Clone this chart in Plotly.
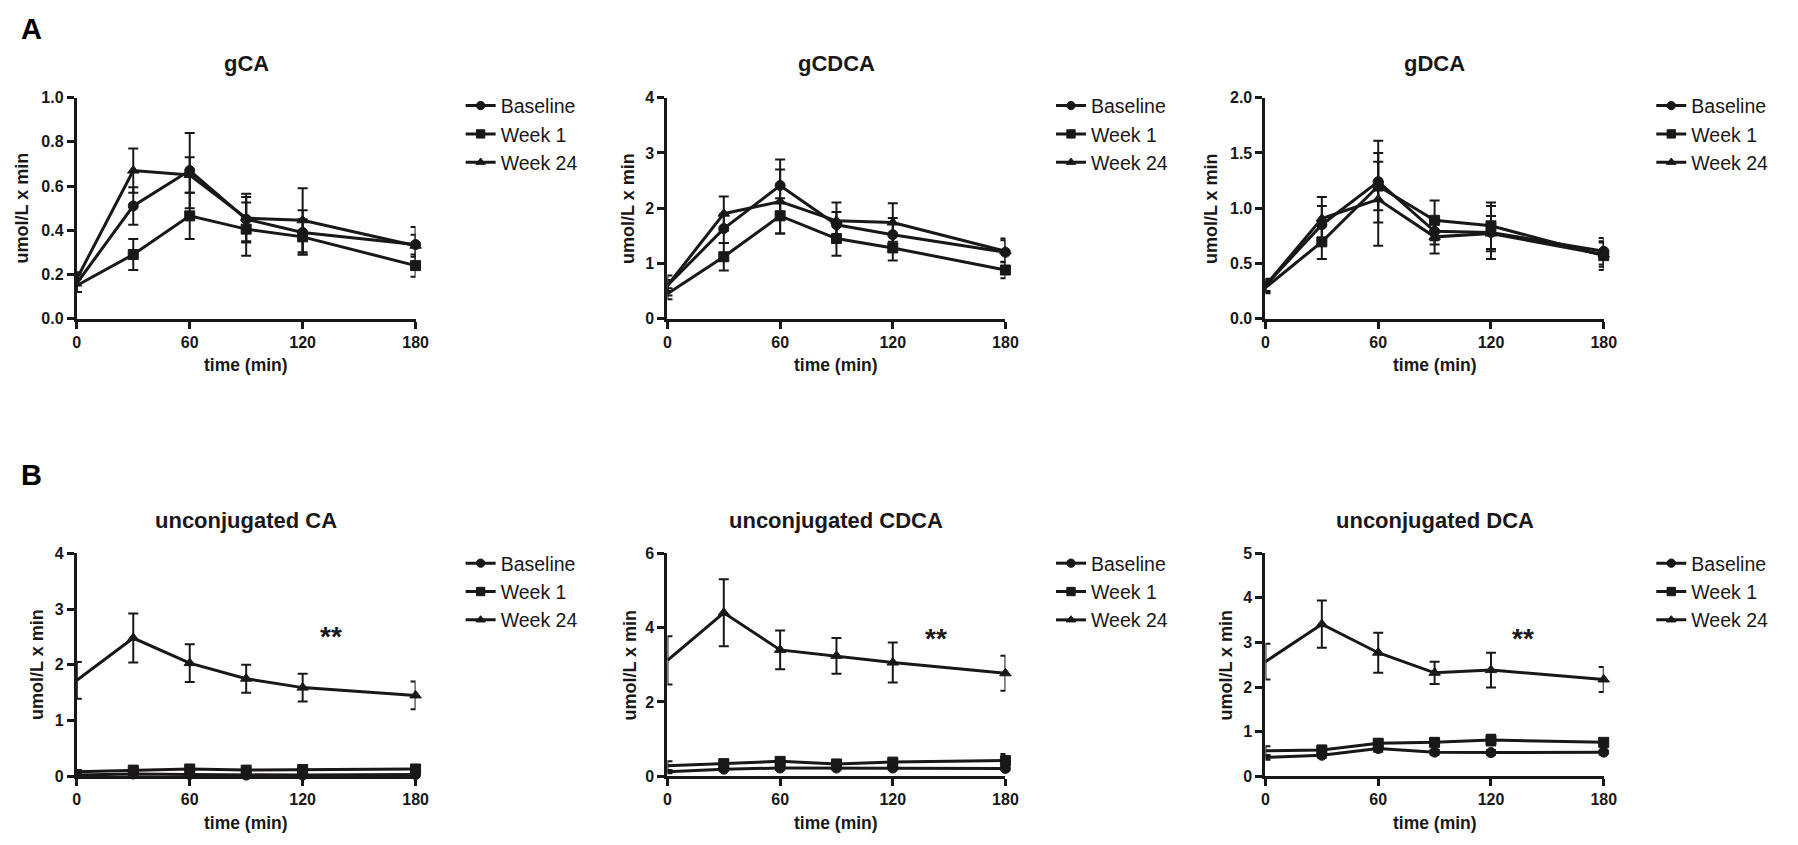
import plotly.graph_objects as go

# ---------------- data ----------------
time = [0, 30, 60, 90, 120, 180]
series_names = ["Baseline", "Week 1", "Week 24"]

panel_titles = ["gCA", "gCDCA", "gDCA", "unconjugated CA", "unconjugated CDCA", "unconjugated DCA"]

# gCA
gca_base = [0.16, 0.51, 0.67, 0.45, 0.39, 0.335]
gca_base_err = [0.04, 0.085, 0.17, 0.10, 0.10, 0.08]
gca_w1 = [0.15, 0.29, 0.465, 0.405, 0.37, 0.24]
gca_w1_err = [0.03, 0.07, 0.105, 0.12, 0.08, 0.05]
gca_w24 = [0.18, 0.67, 0.65, 0.455, 0.445, 0.33]
gca_w24_err = [0.03, 0.10, 0.08, 0.11, 0.145, 0.05]

# gCDCA
gcdca_base = [0.60, 1.63, 2.41, 1.70, 1.52, 1.20]
gcdca_base_err = [0.18, 0.26, 0.47, 0.23, 0.30, 0.25]
gcdca_w1 = [0.45, 1.12, 1.86, 1.45, 1.28, 0.88]
gcdca_w1_err = [0.10, 0.25, 0.32, 0.31, 0.23, 0.15]
gcdca_w24 = [0.60, 1.90, 2.12, 1.77, 1.74, 1.22]
gcdca_w24_err = [0.10, 0.31, 0.58, 0.33, 0.35, 0.20]

# gDCA
gdca_base = [0.30, 0.85, 1.24, 0.79, 0.78, 0.61]
gdca_base_err = [0.06, 0.17, 0.37, 0.12, 0.24, 0.12]
gdca_w1 = [0.28, 0.695, 1.20, 0.89, 0.84, 0.57]
gdca_w1_err = [0.05, 0.155, 0.22, 0.18, 0.21, 0.13]
gdca_w24 = [0.30, 0.905, 1.08, 0.74, 0.77, 0.58]
gdca_w24_err = [0.05, 0.195, 0.42, 0.15, 0.16, 0.11]

# unconjugated CA
uca_base = [0.02, 0.04, 0.03, 0.02, 0.02, 0.03]
uca_base_err = [0.01, 0.02, 0.02, 0.01, 0.01, 0.02]
uca_w1 = [0.08, 0.11, 0.13, 0.11, 0.12, 0.13]
uca_w1_err = [0.03, 0.03, 0.04, 0.03, 0.03, 0.05]
uca_w24 = [1.72, 2.48, 2.03, 1.75, 1.59, 1.45]
uca_w24_err = [0.33, 0.44, 0.34, 0.25, 0.25, 0.25]

# unconjugated CDCA
ucdca_base = [0.12, 0.19, 0.22, 0.22, 0.22, 0.21]
ucdca_base_err = [0.04, 0.04, 0.05, 0.04, 0.04, 0.05]
ucdca_w1 = [0.28, 0.34, 0.40, 0.33, 0.38, 0.42]
ucdca_w1_err = [0.12, 0.08, 0.08, 0.06, 0.07, 0.18]
ucdca_w24 = [3.12, 4.40, 3.40, 3.24, 3.06, 2.77]
ucdca_w24_err = [0.65, 0.90, 0.52, 0.48, 0.54, 0.47]

# unconjugated DCA
udca_base = [0.42, 0.47, 0.62, 0.54, 0.53, 0.54]
udca_base_err = [0.05, 0.05, 0.07, 0.05, 0.05, 0.05]
udca_w1 = [0.57, 0.59, 0.74, 0.76, 0.81, 0.76]
udca_w1_err = [0.10, 0.06, 0.08, 0.08, 0.12, 0.08]
udca_w24 = [2.57, 3.41, 2.77, 2.32, 2.38, 2.17]
udca_w24_err = [0.40, 0.53, 0.45, 0.25, 0.39, 0.28]

y_max = [1.0, 4, 2.0, 4, 6, 5]
y_dtick = [0.2, 1, 0.5, 1, 2, 1]
y_fmt = [".1f", "d", ".1f", "d", "d", "d"]
x_ticks = [0, 60, 120, 180]

# significance marks (bottom row)
star_text = "**"
star_x = [135, 143, 137]
star_y = [2.61, 3.87, 3.23]

panels = [
    [(gca_base, gca_base_err), (gca_w1, gca_w1_err), (gca_w24, gca_w24_err)],
    [(gcdca_base, gcdca_base_err), (gcdca_w1, gcdca_w1_err), (gcdca_w24, gcdca_w24_err)],
    [(gdca_base, gdca_base_err), (gdca_w1, gdca_w1_err), (gdca_w24, gdca_w24_err)],
    [(uca_base, uca_base_err), (uca_w1, uca_w1_err), (uca_w24, uca_w24_err)],
    [(ucdca_base, ucdca_base_err), (ucdca_w1, ucdca_w1_err), (ucdca_w24, ucdca_w24_err)],
    [(udca_base, udca_base_err), (udca_w1, udca_w1_err), (udca_w24, udca_w24_err)],
]

# ---------------- layout geometry (pixels) ----------------
W, H = 1798, 845
INK = "#1a1718"
FONT = "Liberation Sans, Arial, Helvetica, sans-serif"

col_x = [(73.5, 415.5), (669.8, 1011.0), (1273.5, 1615.0)]
row_y = [(91.5, 317.0), (556.5, 784.0)]
legend_text_x = [505, 1101, 1707]
legend_top = [80, 547]
title_y = [57, 523]
ytitle_off = [55, 40, 55, 40, 38, 40]

symbols = ["circle", "square", "triangle-up"]
msizes = [10, 10, 10]

def px(x):
    return x / W

def py(y):
    return 1 - y / H

fig = go.Figure()
annotations = []

for i, series in enumerate(panels):
    r, c = divmod(i, 3)
    n = i + 1
    xa = "x" if n == 1 else f"x{n}"
    ya = "y" if n == 1 else f"y{n}"
    leg = "legend" if n == 1 else f"legend{n}"
    for k, (vals, errs) in enumerate(series):
        sizes = [0] + [msizes[k]] * (len(time) - 1)
        fig.add_trace(go.Scatter(
            x=time, y=vals, name=series_names[k], mode="lines+markers",
            xaxis=xa, yaxis=ya, legend=leg, cliponaxis=False, hoverinfo="skip",
            line=dict(color=INK, width=3),
            marker=dict(symbol=symbols[k], size=sizes, color=INK, opacity=1,
                        line=dict(width=1, color=INK)),
            error_y=dict(type="data", array=errs, visible=True, color=INK, thickness=2, width=5),
        ))
    x0, x1 = col_x[c]
    y0, y1 = row_y[r]
    axis_common = dict(showline=True, linewidth=3, linecolor=INK, ticks="outside", ticklen=7,
                       tickwidth=2.5, tickcolor=INK, showgrid=False, zeroline=False,
                       tickfont=dict(family=FONT, size=16, color=INK, weight="bold"))
    fig.layout[("xaxis" if n == 1 else f"xaxis{n}")] = dict(
        domain=[px(x0), px(x1)], anchor=ya, range=[0, 180], tickvals=x_ticks, **axis_common)
    fig.layout[("yaxis" if n == 1 else f"yaxis{n}")] = dict(
        domain=[py(y1), py(y0)], anchor=xa, range=[0, y_max[i]], dtick=y_dtick[i], tick0=0,
        tickformat=y_fmt[i], **axis_common)
    fig.layout[leg] = dict(
        x=px(legend_text_x[c] - 44), y=py(legend_top[r]), xanchor="left", yanchor="top",
        bgcolor="rgba(0,0,0,0)", font=dict(family=FONT, size=19.5, color=INK),
        itemwidth=30, tracegroupgap=0)
    # panel title
    annotations.append(dict(text=panel_titles[i], x=px((x0 + x1) / 2), y=py(title_y[r]),
                            xref="paper", yref="paper", showarrow=False, xanchor="center", yanchor="middle",
                            font=dict(family=FONT, size=22, color=INK, weight="bold")))
    # x-axis title
    annotations.append(dict(text="time (min)", x=px((x0 + x1) / 2), y=py(y1 + 47.5),
                            xref="paper", yref="paper", showarrow=False, xanchor="center", yanchor="middle",
                            font=dict(family=FONT, size=17.5, color=INK, weight="bold")))
    # y-axis title
    annotations.append(dict(text="umol/L x min", x=px(x0 - ytitle_off[i]), y=py((y0 + y1) / 2),
                            xref="paper", yref="paper", showarrow=False, xanchor="center", yanchor="middle",
                            textangle=-90,
                            font=dict(family=FONT, size=18, color=INK, weight="bold")))
    if r == 1:
        annotations.append(dict(text=star_text, x=star_x[c], y=star_y[c], xref=xa, yref=ya,
                                showarrow=False, xanchor="center", yanchor="middle", yshift=-6,
                                font=dict(family=FONT, size=28, color=INK, weight="bold")))

annotations.append(dict(text="A", x=px(15), y=py(21), xref="paper", yref="paper", showarrow=False,
                        xanchor="left", yanchor="middle",
                        font=dict(family=FONT, size=29, color="#000000", weight="bold")))
annotations.append(dict(text="B", x=px(15), y=py(477), xref="paper", yref="paper", showarrow=False,
                        xanchor="left", yanchor="middle",
                        font=dict(family=FONT, size=29, color="#000000", weight="bold")))

fig.update_layout(width=W, height=H, margin=dict(l=0, r=0, t=0, b=0),
                  paper_bgcolor="white", plot_bgcolor="white", annotations=annotations,
                  font=dict(family=FONT, color=INK), hovermode=False)

fig.write_html("out.html", config={"displayModeBar": False, "responsive": False},
               post_script="document.body.style.margin='0';document.body.style.overflow='hidden';")
